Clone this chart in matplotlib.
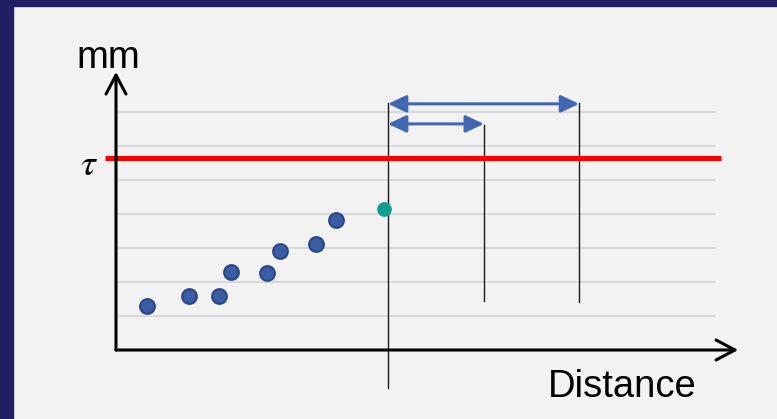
import matplotlib.pyplot as plt
from matplotlib.patches import Rectangle

# data (x in distance units, y in mm units)
point_x = [0.92, 2.15, 3.03, 3.37, 4.43, 4.81, 5.87, 6.48]
point_y = [1.29, 1.59, 1.59, 2.30, 2.26, 2.92, 3.11, 3.81]
new_x = [7.89]
new_y = [4.15]
grid_levels = [1, 2, 3, 4, 5, 6, 7]
tau = 5.66
window_x = [8.0, 10.82, 13.62]
window_top = [7.26, 6.62, 7.26]
window_bottom = [-1.12, 1.44, 1.41]
span_ends = [13.62, 10.82]
span_levels = [7.24, 6.65]

bg = '#F2F2F2'
navy = '#211E63'
blue = '#3A5DA6'
arrow_blue = '#4268B2'


def draw_axes_arrows(ax):
    props = dict(arrowstyle='->,head_length=0.68,head_width=0.36', color='black',
                 lw=2.2, shrinkA=0, shrinkB=0, mutation_scale=20)
    ax.annotate('', xy=(0, 8.18), xytext=(0, 0), arrowprops=props)
    ax.annotate('', xy=(18.3, 0), xytext=(0, 0), arrowprops=props)


def main():
    fig = plt.figure(figsize=(7.77, 4.19), dpi=100, facecolor=bg)
    fig.patches.append(Rectangle((0, 0), 13 / 777, 1, transform=fig.transFigure,
                                 color=navy, zorder=0))
    fig.patches.append(Rectangle((0, 1 - 6 / 419), 1, 6 / 419, transform=fig.transFigure,
                                 color=navy, zorder=0))

    ax = fig.add_axes([0, 0, 1, 1])
    ax.set_facecolor('none')
    ax.set_xlim(-116 / 34, 661 / 34)
    ax.set_ylim(-69 / 34, 350 / 34)
    ax.axis('off')

    for g in grid_levels:
        ax.plot([0.06, 17.6], [g, g], color='#D9D9D9', lw=1.6, zorder=1)

    ax.plot([-0.32, 17.8], [tau, tau], color='#FF0000', lw=3.6, zorder=3, solid_capstyle='butt')

    for x, top, bottom in zip(window_x, window_top, window_bottom):
        ax.plot([x, x], [bottom, top], color='#1A1A1A', lw=1.0, zorder=2)

    for end, level in zip(span_ends, span_levels):
        ax.annotate('', xy=(end, level), xytext=(window_x[0], level),
                    arrowprops=dict(arrowstyle='<|-|>,head_length=0.55,head_width=0.26',
                                    color=arrow_blue, lw=2.2, shrinkA=0, shrinkB=0,
                                    mutation_scale=20), zorder=4)

    draw_axes_arrows(ax)

    ax.plot(point_x, point_y, 'o', markersize=10.6, markerfacecolor=blue,
            markeredgecolor='#2A4785', markeredgewidth=1.5, zorder=5)
    ax.plot(new_x, new_y, 'o', markersize=10.6, color='#0E9E90', markeredgewidth=0, zorder=5)

    ax.text(-0.22, 8.30, 'mm', fontsize=27.5, family='Liberation Sans', ha='center', va='baseline')
    ax.text(14.9, -1.39, 'Distance', fontsize=27.5, family='Liberation Sans', ha='center', va='baseline')
    plt.rcParams['mathtext.fontset'] = 'stix'
    ax.text(-0.80, 5.15, r'$\tau$', fontsize=27, ha='center', va='baseline')

    plt.savefig('out.png', dpi=100, facecolor=bg)


if __name__ == '__main__':
    main()
